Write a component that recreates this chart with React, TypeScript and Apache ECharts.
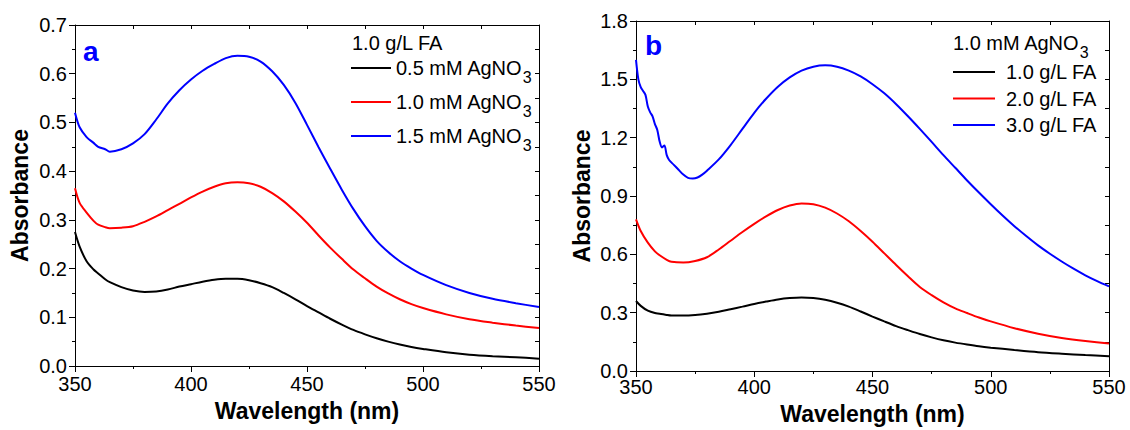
import React, { useEffect, useRef } from "react";
import * as echarts from "echarts";

// ---------- Panel a data (1.0 g/L FA) ----------
const wlA = [350, 352, 355, 358, 360, 363, 365, 370, 375, 380, 385, 390, 395, 400, 405, 410, 415, 420, 425, 430, 435, 440, 445, 450, 455, 460, 465, 470, 475, 480, 485, 490, 495, 500, 510, 520, 530, 540, 550];
const a05 = [0.275, 0.245, 0.215, 0.198, 0.19, 0.178, 0.172, 0.162, 0.155, 0.152, 0.153, 0.157, 0.163, 0.168, 0.173, 0.177, 0.179, 0.179, 0.176, 0.17, 0.162, 0.15, 0.137, 0.123, 0.11, 0.097, 0.085, 0.074, 0.065, 0.057, 0.05, 0.044, 0.039, 0.035, 0.028, 0.023, 0.02, 0.018, 0.015];
const a10 = [0.365, 0.335, 0.315, 0.298, 0.29, 0.285, 0.283, 0.284, 0.287, 0.296, 0.307, 0.32, 0.333, 0.346, 0.358, 0.368, 0.375, 0.377, 0.375, 0.368, 0.355, 0.338, 0.317, 0.294, 0.268, 0.243, 0.22, 0.198, 0.18, 0.163, 0.149, 0.137, 0.127, 0.119, 0.106, 0.096, 0.089, 0.083, 0.078];
const a15 = [0.52, 0.49, 0.47, 0.458, 0.45, 0.445, 0.44, 0.445, 0.457, 0.476, 0.506, 0.539, 0.566, 0.588, 0.606, 0.62, 0.632, 0.637, 0.635, 0.625, 0.605, 0.577, 0.54, 0.495, 0.449, 0.405, 0.362, 0.322, 0.287, 0.257, 0.234, 0.215, 0.2, 0.187, 0.166, 0.15, 0.138, 0.129, 0.121];

// ---------- Panel b data (1.0 mM AgNO3) ----------
const wlB = wlA;
const b10 = [0.36, 0.335, 0.31, 0.298, 0.295, 0.288, 0.285, 0.285, 0.288, 0.295, 0.305, 0.318, 0.331, 0.345, 0.357, 0.368, 0.375, 0.378, 0.375, 0.366, 0.351, 0.331, 0.306, 0.28, 0.255, 0.231, 0.21, 0.19, 0.173, 0.158, 0.146, 0.136, 0.127, 0.12, 0.108, 0.097, 0.089, 0.082, 0.076];
const b20 = [0.78, 0.72, 0.66, 0.615, 0.595, 0.572, 0.562, 0.558, 0.566, 0.585, 0.625, 0.67, 0.715, 0.757, 0.795, 0.828, 0.851, 0.862, 0.858, 0.84, 0.81, 0.77, 0.72, 0.665, 0.605, 0.545, 0.487, 0.432, 0.39, 0.353, 0.322, 0.298, 0.275, 0.255, 0.22, 0.192, 0.17, 0.154, 0.142];
const wlB30 = [350, 351, 352, 353, 354, 355, 356, 357, 358, 359, 360, 361, 362, 363, 364, 366, 368, 370, 372, 374, 376, 378, 380, 385, 390, 395, 400, 405, 410, 415, 420, 425, 430, 435, 440, 445, 450, 455, 460, 465, 470, 475, 480, 485, 490, 495, 500, 505, 510, 515, 520, 525, 530, 535, 540, 545, 550];
const b30 = [1.6, 1.5, 1.46, 1.44, 1.42, 1.36, 1.33, 1.31, 1.27, 1.24, 1.18, 1.15, 1.16, 1.11, 1.085, 1.06, 1.035, 1.01, 0.993, 0.99, 0.995, 1.01, 1.03, 1.088, 1.162, 1.245, 1.328, 1.4, 1.462, 1.51, 1.545, 1.565, 1.572, 1.565, 1.545, 1.515, 1.475, 1.428, 1.372, 1.31, 1.245, 1.178, 1.11, 1.045, 0.98, 0.918, 0.858, 0.8, 0.745, 0.694, 0.646, 0.603, 0.563, 0.526, 0.492, 0.462, 0.435];

const namesA = ["0.5 mM AgNO3", "1.0 mM AgNO3", "1.5 mM AgNO3"];
const namesB = ["1.0 g/L FA", "2.0 g/L FA", "3.0 g/L FA"];
const colors = ["#000000", "#ff0000", "#0000ff"];

const FONT = "'Liberation Sans', Arial, sans-serif";

const pairs = (xs: number[], ys: number[]) => xs.map((x, i) => [x, ys[i]]);

function bottomX(grid: number, margin: number, gap: number) {
  return {
    type: "value", gridIndex: grid, position: "bottom", min: 350, max: 550, interval: 50,
    name: "Wavelength (nm)", nameLocation: "middle", nameGap: gap,
    nameTextStyle: { fontSize: 23, fontWeight: "bold", color: "#000", fontFamily: FONT },
    axisLine: { show: true, onZero: false, lineStyle: { color: "#000", width: 1 } },
    axisTick: { show: true, inside: false, length: 6, lineStyle: { color: "#000" } },
    minorTick: { show: true, splitNumber: 2, length: 3, lineStyle: { color: "#000" } },
    axisLabel: { fontSize: 20, color: "#000", margin, fontFamily: FONT },
    splitLine: { show: false }, minorSplitLine: { show: false },
  };
}
function topX(grid: number) {
  return {
    type: "value", gridIndex: grid, position: "top", min: 350, max: 550, interval: 50,
    axisLine: { show: true, onZero: false, lineStyle: { color: "#000", width: 1 } },
    axisTick: { show: true, inside: true, length: 4, lineStyle: { color: "#000" } },
    minorTick: { show: true, splitNumber: 2, length: 4, lineStyle: { color: "#000" } },
    axisLabel: { show: false }, splitLine: { show: false }, minorSplitLine: { show: false },
  };
}
function leftY(grid: number, max: number, interval: number, gap: number) {
  return {
    type: "value", gridIndex: grid, position: "left", min: 0, max, interval,
    name: "Absorbance", nameLocation: "middle", nameGap: gap,
    nameTextStyle: { fontSize: 23, fontWeight: "bold", color: "#000", fontFamily: FONT },
    axisLine: { show: true, onZero: false, lineStyle: { color: "#000", width: 1 } },
    axisTick: { show: true, inside: false, length: 6, lineStyle: { color: "#000" } },
    minorTick: { show: true, splitNumber: 2, length: 3, lineStyle: { color: "#000" } },
    axisLabel: { fontSize: 20, color: "#000", margin: 8, fontFamily: FONT, formatter: (v: number) => v.toFixed(1) },
    splitLine: { show: false }, minorSplitLine: { show: false },
  };
}
function rightY(grid: number, max: number, interval: number) {
  return {
    type: "value", gridIndex: grid, position: "right", min: 0, max, interval,
    axisLine: { show: true, onZero: false, lineStyle: { color: "#000", width: 1 } },
    axisTick: { show: true, inside: true, length: 4, lineStyle: { color: "#000" } },
    minorTick: { show: true, splitNumber: 2, length: 4, lineStyle: { color: "#000" } },
    axisLabel: { show: false }, splitLine: { show: false }, minorSplitLine: { show: false },
  };
}

const subRich = {
  sub: { fontSize: 16, lineHeight: 14, verticalAlign: "top", padding: [16, 0, 0, 0], fontFamily: FONT, color: "#000" },
};

function lineSeries(name: string, data: number[][], color: string, grid: number) {
  return {
    type: "line", name, data, xAxisIndex: grid * 2, yAxisIndex: grid * 2,
    showSymbol: false, symbol: "none", smooth: 0.3, color,
    lineStyle: { color, width: 2 }, itemStyle: { color },
  };
}

export default function App() {
  const ref = useRef<HTMLDivElement>(null);
  useEffect(() => {
    if (!ref.current) return;
    const chart = echarts.init(ref.current, null, { renderer: "svg" });
    const option = {
      animation: false,
      backgroundColor: "#ffffff",
      grid: [
        { left: 75, top: 25, width: 464, height: 341 },
        { left: 636, top: 21, width: 473, height: 350 },
      ],
      xAxis: [bottomX(0, 8, 33), topX(0), bottomX(1, 6, 31), topX(1)],
      yAxis: [leftY(0, 0.7, 0.1, 44), rightY(0, 0.7, 0.1), leftY(1, 1.8, 0.3, 43), rightY(1, 1.8, 0.3)],
      legend: [
        {
          data: namesA, orient: "vertical", left: 351, top: 53, padding: 0, itemWidth: 40, itemHeight: 2, itemGap: 2,
          icon: "rect", selectedMode: false,
          formatter: (n: string) => n.replace(/3$/, "{sub|3}"),
          textStyle: { fontSize: 20, lineHeight: 30, color: "#000", fontFamily: FONT, rich: subRich },
        },
        {
          data: namesB, orient: "vertical", left: 953, top: 61, padding: 0, itemWidth: 42, itemHeight: 2, itemGap: 4.5,
          icon: "rect", selectedMode: false,
          formatter: (n: string) => "{sp| }" + n,
          textStyle: { fontSize: 20, lineHeight: 22, color: "#000", fontFamily: FONT, rich: { sp: { width: 6, fontSize: 20, lineHeight: 22 } } },
        },
      ],
      graphic: [
        { type: "text", x: 83, y: 51, style: { text: "a", fill: "#0000ff", fontSize: 28, fontWeight: "bold", fontFamily: FONT, verticalAlign: "middle" } },
        { type: "text", x: 645, y: 45, style: { text: "b", fill: "#0000ff", fontSize: 28, fontWeight: "bold", fontFamily: FONT, verticalAlign: "middle" } },
        { type: "text", x: 352, y: 43, style: { text: "1.0 g/L FA", fill: "#000", fontSize: 20, fontFamily: FONT, verticalAlign: "middle" } },
        {
          type: "text", x: 953, y: 28,
          style: {
            text: "1.0 mM AgNO{sub|3}", fill: "#000", fontSize: 20, lineHeight: 30, fontFamily: FONT, verticalAlign: "top",
            rich: subRich,
          },
        },
      ],
      series: [
        lineSeries(namesA[0], pairs(wlA, a05), colors[0], 0),
        lineSeries(namesA[1], pairs(wlA, a10), colors[1], 0),
        lineSeries(namesA[2], pairs(wlA, a15), colors[2], 0),
        lineSeries(namesB[0], pairs(wlB, b10), colors[0], 1),
        lineSeries(namesB[1], pairs(wlB, b20), colors[1], 1),
        lineSeries(namesB[2], pairs(wlB30, b30), colors[2], 1),
      ],
    };
    chart.setOption(option as any);
    return () => chart.dispose();
  }, []);
  return <div ref={ref} style={{ position: "fixed", left: 0, top: 0, width: 1130, height: 430 }} />;
}
